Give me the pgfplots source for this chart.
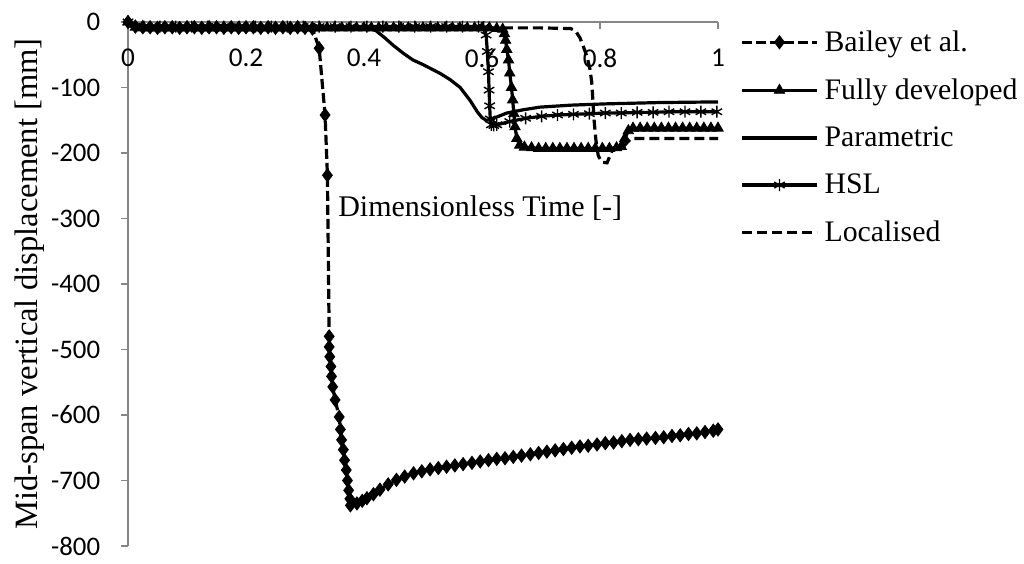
\documentclass[border=0pt]{standalone}
\usepackage{pgfplots}
\pgfplotsset{compat=1.18}
\usepackage{fontspec}
\setmainfont{Liberation Serif}
\newfontfamily\tickfont{Carlito}
\definecolor{axgray}{RGB}{134,134,134}

\begin{document}
\begin{tikzpicture}
\begin{axis}[
  name=ax,
  scale only axis, width=295pt, height=262pt,
  xmin=0, xmax=1, ymin=-800, ymax=0,
  clip=false,
  axis x line=middle, axis y line=left,
  axis line style={-, draw=axgray, line width=0.6pt},
  hide obscured x ticks=false, hide obscured y ticks=false,
  xtick={0,0.2,0.4,0.6,0.8,1},
  xticklabels={0,0.2,0.4,0.6,0.8,1},
  ytick={-800,-700,-600,-500,-400,-300,-200,-100,0},
  yticklabels={-800,-700,-600,-500,-400,-300,-200,-100,0},
  tick align=center, major tick length=3.5pt,
  major x tick style={draw=axgray, line width=0.6pt, yshift=-1.75pt},
  major y tick style={draw=axgray, line width=0.6pt, xshift=-1.75pt},
  x tick label style={font=\tickfont\fontsize{13.6}{14}\selectfont, inner sep=0pt, anchor=north, yshift=-11.5pt},
  y tick label style={font=\tickfont\fontsize{13.4}{14}\selectfont, inner sep=0pt, anchor=east, xshift=-12pt},
  xlabel={Dimensionless Time [-]},
  xlabel style={at={(axis description cs:0.597,0.645)}, anchor=center, font=\fontsize{15}{17}\selectfont},
  ylabel={Mid-span vertical displacement [mm]},
  ylabel style={at={(axis description cs:-0.166,0.5)}, anchor=center, rotate=0, font=\fontsize{16.3}{18}\selectfont},
  legend style={at={(axis description cs:1,1)}, anchor=north west, xshift=8pt, yshift=-2pt,
    draw=none, fill=none, font=\fontsize{14.9}{17}\selectfont, row sep=12.2pt, column sep=3pt,
    nodes={inner sep=0pt}},
  legend cell align=left,
  legend image code/.code={\draw[mark repeat=2,mark phase=2,#1] plot coordinates {(0pt,0pt) (18.75pt,0pt) (37.5pt,0pt)};},
]
% Bailey et al. test data
\addplot[black, line width=1.6pt, dash pattern=on 5pt off 2pt, mark=diamond*, mark size=3.3pt,
  mark options={solid, line width=0.4pt}] coordinates {
 (0,0) (0.0125,-7) (0.025,-8) (0.0375,-8) (0.05,-9) (0.0625,-8) (0.075,-8) (0.0875,-9)
 (0.1,-8) (0.1125,-8) (0.125,-9) (0.1375,-8) (0.15,-8) (0.1625,-9) (0.175,-8) (0.1875,-9)
 (0.2,-8) (0.2125,-8) (0.225,-9) (0.2375,-8) (0.25,-9) (0.2625,-8) (0.275,-9) (0.2875,-8)
 (0.3,-9) (0.3125,-10)
 (0.324,-40) (0.334,-142) (0.338,-234) (0.341,-480) (0.341,-496) (0.342,-511) (0.344,-526)
 (0.345,-541) (0.347,-557) (0.351,-577) (0.358,-603) (0.360,-622) (0.362,-638) (0.365,-653)
 (0.367,-669) (0.370,-684) (0.372,-700) (0.374,-715) (0.376,-728) (0.377,-738)
 (0.388,-735) (0.397,-731) (0.405,-727) (0.416,-721) (0.427,-714) (0.441,-706) (0.455,-699)
 (0.469,-694) (0.484,-689) (0.498,-686) (0.512,-683) (0.526,-681) (0.540,-679) (0.554,-677)
 (0.568,-675) (0.583,-673) (0.597,-671) (0.611,-669) (0.625,-667) (0.639,-666) (0.653,-664)
 (0.667,-662) (0.682,-660) (0.696,-658) (0.710,-656) (0.724,-654) (0.738,-652) (0.752,-650)
 (0.766,-648) (0.780,-647) (0.795,-645) (0.809,-643) (0.823,-642) (0.837,-640) (0.851,-638)
 (0.865,-637) (0.879,-636) (0.894,-635) (0.908,-634) (0.922,-632) (0.936,-631) (0.950,-629)
 (0.964,-628) (0.978,-626) (0.992,-624) (1.0,-622)
};
\addlegendentry{Bailey et al.}
% Fully developed fire
\addplot[black, line width=1.6pt, mark=triangle*, mark size=3pt, mark options={line width=0.4pt}] coordinates {
 (0,0) (0.0125,-8) (0.025,-9) (0.0375,-9) (0.05,-9) (0.0625,-9) (0.075,-9) (0.0875,-9)
 (0.1,-9) (0.1125,-9) (0.125,-9) (0.1375,-9) (0.15,-9) (0.1625,-9) (0.175,-9) (0.1875,-9)
 (0.2,-9) (0.2125,-9) (0.225,-9) (0.2375,-9) (0.25,-9) (0.2625,-9) (0.275,-9) (0.2875,-9)
 (0.3,-9) (0.3125,-9) (0.325,-9) (0.3375,-9) (0.35,-9) (0.3625,-9) (0.375,-9) (0.3875,-9)
 (0.4,-9) (0.4125,-9) (0.425,-9) (0.4375,-9) (0.45,-9) (0.4625,-9) (0.475,-9) (0.4875,-9)
 (0.5,-9) (0.5125,-9) (0.525,-9) (0.5375,-9) (0.55,-9) (0.5625,-9) (0.575,-9) (0.5875,-9)
 (0.6,-9) (0.6125,-9) (0.625,-10) (0.635,-11)
 (0.638,-18) (0.640,-28) (0.642,-42) (0.645,-58) (0.647,-78) (0.650,-100) (0.652,-119)
 (0.654,-140) (0.656,-160) (0.659,-178) (0.664,-188) (0.672,-191)
 (0.684,-192) (0.696,-193) (0.708,-193) (0.720,-193) (0.732,-193) (0.744,-193) (0.756,-193)
 (0.768,-193) (0.780,-193) (0.792,-193) (0.804,-193) (0.816,-193) (0.828,-192) (0.836,-190)
 (0.842,-178) (0.848,-166) (0.856,-162) (0.868,-162) (0.880,-162) (0.892,-162) (0.904,-162)
 (0.916,-162) (0.928,-162) (0.940,-162) (0.952,-162) (0.964,-162) (0.976,-162) (0.988,-162)
 (1.0,-162)
};
\addlegendentry{Fully developed}
% Parametric fire
\addplot[black, line width=1.6pt, mark=none] coordinates {
 (0,-6) (0.1,-6) (0.2,-7) (0.3,-7) (0.4,-8) (0.42,-13) (0.435,-24) (0.45,-36) (0.467,-48)
 (0.483,-58) (0.5,-65) (0.515,-72) (0.53,-79) (0.546,-88) (0.563,-100) (0.58,-120)
 (0.592,-137) (0.6,-146) (0.607,-150) (0.615,-149) (0.628,-144) (0.642,-139) (0.67,-134)
 (0.698,-130) (0.75,-127) (0.81,-125) (0.9,-123) (1.0,-122)
};
\addlegendentry{Parametric}
% HSL fire
\addplot[black, line width=1.6pt, mark=asterisk, mark size=3pt, mark options={line width=0.7pt}] coordinates {
 (0,0) (0.027,-7) (0.054,-7) (0.081,-7) (0.108,-7) (0.135,-7) (0.162,-7) (0.189,-7)
 (0.216,-7) (0.243,-7) (0.270,-7) (0.297,-7) (0.324,-7) (0.351,-7) (0.378,-7) (0.405,-7)
 (0.432,-7) (0.459,-7) (0.486,-7) (0.513,-7) (0.540,-7) (0.567,-7) (0.594,-7) (0.603,-8)
 (0.607,-20) (0.609,-45) (0.611,-76) (0.612,-104) (0.613,-128) (0.614,-148) (0.616,-157)
 (0.620,-158) (0.625,-157) (0.647,-152) (0.674,-147) (0.701,-144) (0.728,-142) (0.755,-141)
 (0.782,-140) (0.809,-139) (0.836,-139) (0.863,-138) (0.890,-138) (0.917,-137) (0.944,-137)
 (0.971,-137) (0.998,-137)
};
\addlegendentry{HSL}
% Localised fire
\addplot[black, line width=1.6pt, dash pattern=on 5pt off 2.5pt, mark=none] coordinates {
 (0,-6) (0.2,-7) (0.4,-8) (0.6,-9) (0.636,-9) (0.70,-9) (0.75,-10) (0.758,-13) (0.766,-24)
 (0.772,-38) (0.778,-53) (0.783,-72) (0.786,-92) (0.788,-120) (0.790,-150) (0.793,-180)
 (0.797,-204) (0.803,-214) (0.812,-215) (0.822,-193) (0.838,-192) (0.852,-178) (1.0,-178)
};
\addlegendentry{Localised}
\end{axis}
\pgfresetboundingbox
\path ([shift={(-64pt,-8.5pt)}]ax.south west) rectangle ([shift={(153pt,11pt)}]ax.north east);
\end{tikzpicture}
\end{document}
